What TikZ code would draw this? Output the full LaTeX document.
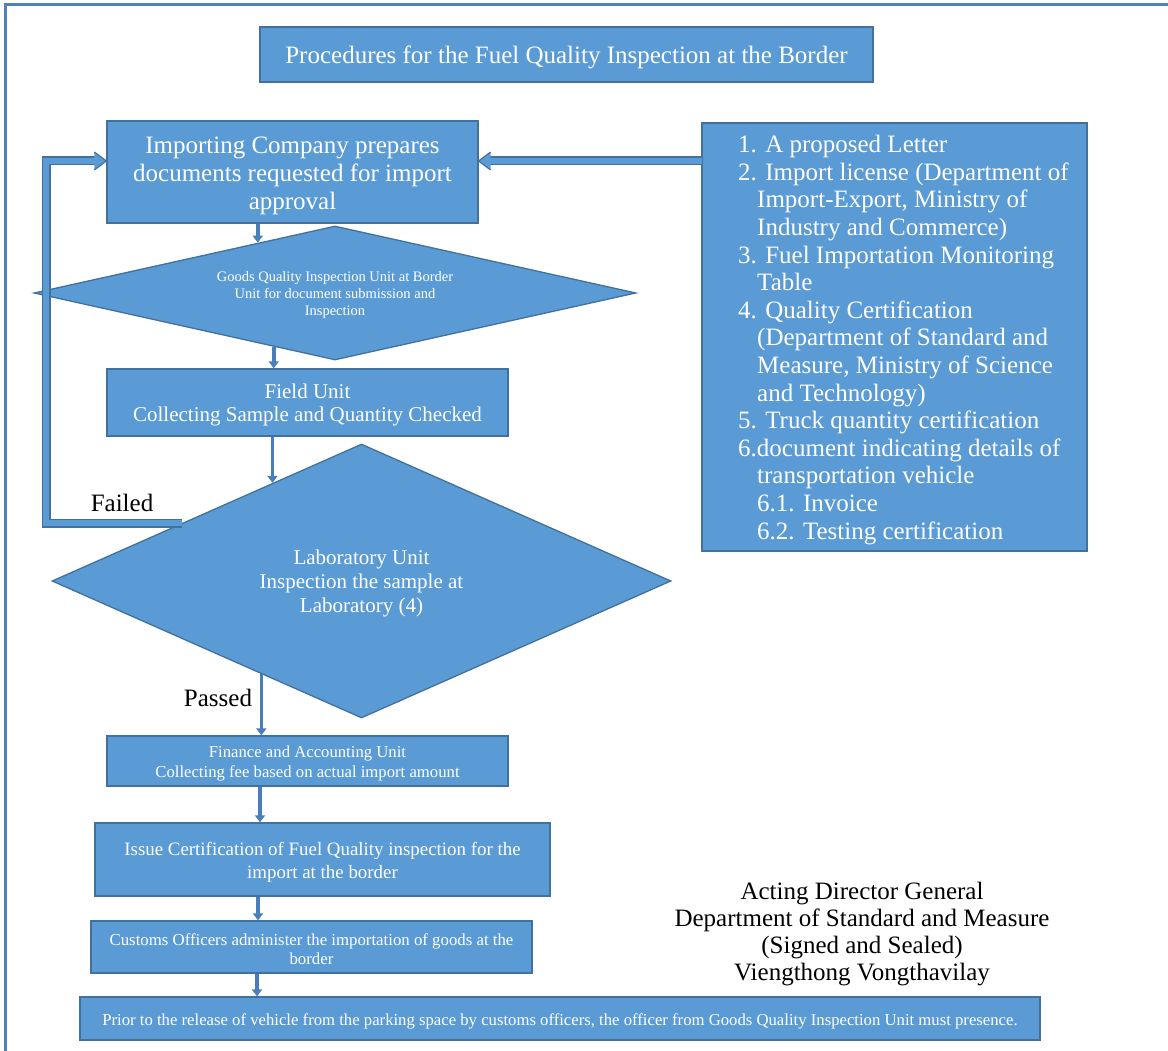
\documentclass[tikz,border=0pt]{standalone}
\usepackage{fontspec}
\setmainfont{Liberation Serif}
\usetikzlibrary{shapes.geometric,arrows.meta,calc}
\definecolor{boxfill}{HTML}{5B9BD5}
\definecolor{boxline}{HTML}{41719C}
\definecolor{framecol}{HTML}{4F81BD}
\definecolor{arrowcol}{HTML}{4A7EBB}
\newcommand{\fs}[2]{\fontsize{#1}{#2}\selectfont}
\newcommand{\dn}[1]{\rule{0pt}{\dimexpr 0.68em+#1pt\relax}}
\begin{document}
\begin{tikzpicture}[x=1pt,y=-1pt,
  box/.style={draw=boxline, fill=boxfill, line width=1.3pt, text=white, align=center, inner sep=0pt},
  dia/.style={box, shape=diamond},
  arr/.style={draw=arrowcol, line width=3.5pt, -{Triangle[width=10pt,length=7pt]}},
  lbl/.style={text=black, inner sep=0pt, align=center},
  shaftout/.style={draw=boxline, line width=9pt, line join=miter},
  shaftin/.style={draw=boxfill, line width=6.4pt, line join=miter}]
\useasboundingbox (0,0) rectangle (1168,1051);
\draw[framecol, line width=3pt] (5,1051) -- (5,5) -- (1168,5);

% boxes
\node[box, minimum width=613, minimum height=55, font=\fs{25}{30}] (title) at (566.5,54.5)
  {\dn{6}Procedures for the Fuel Quality Inspection at the Border};
\node[box, minimum width=371, minimum height=102, font=\fs{25}{28}] (imp) at (292.5,172)
  {\dn{8}Importing Company prepares\\documents requested for import\\approval};
\node[box, minimum width=385, minimum height=428] (list) at (894.5,337) {};
\node[lbl, text=white, align=left, anchor=west, font=\fs{25}{27.6}] (listtext) at (738,340)
  {1. A proposed Letter\\
   2. Import license (Department of\\
   \hspace*{19pt}Import-Export, Ministry of\\
   \hspace*{19pt}Industry and Commerce)\\
   3. Fuel Importation Monitoring\\
   \hspace*{19pt}Table\\
   4. Quality Certification\\
   \hspace*{19pt}(Department of Standard and\\
   \hspace*{19pt}Measure, Ministry of Science\\
   \hspace*{19pt}and Technology)\\
   5. Truck quantity certification\\
   6.document indicating details of\\
   \hspace*{19pt}transportation vehicle\\
   \hspace*{19pt}6.1. Invoice\\
   \hspace*{19pt}6.2. Testing certification};
\node[dia, aspect=4.5, minimum width=602, minimum height=134, font=\fs{14.5}{17}] (d1) at (335,293)
  {\dn{4}Goods Quality Inspection Unit at Border\\Unit for document submission and\\Inspection};
\node[box, minimum width=401, minimum height=67, font=\fs{21}{23}] (field) at (307.5,402.5)
  {\dn{5}Field Unit\\Collecting Sample and Quantity Checked};
\node[dia, aspect=2.26, minimum width=619, minimum height=274, font=\fs{21}{24}] (lab) at (361.5,581)
  {\dn{6}Laboratory Unit\\Inspection the sample at\\Laboratory (4)};
\node[box, minimum width=401, minimum height=50, font=\fs{16.7}{20}] (fin) at (307.5,761)
  {\dn{6}Finance and Accounting Unit\\Collecting fee based on actual import amount};
\node[box, minimum width=455, minimum height=73, font=\fs{18.9}{23}] (iss) at (322.5,859.5)
  {\dn{7}Issue Certification of Fuel Quality inspection for the\\import at the border};
\node[box, minimum width=441, minimum height=52, font=\fs{16.8}{19}] (cus) at (311.5,947)
  {\dn{4}Customs Officers administer the importation of goods at the\\border};
\node[box, minimum width=960, minimum height=43, font=\fs{16.7}{20}] (pri) at (560,1018.5)
  {\dn{7}Prior to the release of vehicle from the parking space by customs officers, the officer from Goods Quality Inspection Unit must presence.};

\node[lbl, font=\fs{25}{28}] (failed) at (122,503) {Failed};
\node[lbl, font=\fs{25}{28}] (passed) at (218,698) {Passed};
\node[lbl, font=\fs{25}{27}] (sign) at (862,932)
  {\dn{4}Acting Director General\\Department of Standard and Measure\\(Signed and Sealed)\\Viengthong Vongthavilay};

% small arrows
\coordinate (c1) at ($(d1.west)!0.744!(d1.north)$);
\coordinate (c2) at ($(d1.west)!0.797!(d1.south)$);
\coordinate (c3) at ($(lab.west)!0.713!(lab.north)$);
\coordinate (c4) at ($(lab.west)!0.677!(lab.south)$);
\coordinate (c5) at (260,0);
\coordinate (c6) at (258,0);
\coordinate (c7) at (257,0);
\draw[arr] (imp.south -| c1) -- (c1);
\draw[arr] (c2) -- (field.north -| c2);
\draw[arr] (field.south -| c3) -- (c3);
\draw[arr] (c4) -- (fin.north -| c4);
\draw[arr] (fin.south -| c5) -- (iss.north -| c5);
\draw[arr] (iss.south -| c6) -- (cus.north -| c6);
\draw[arr] (cus.south -| c7) -- (pri.north -| c7);

% block arrow: list -> importing company
\coordinate (ay) at (0,161);
\coordinate (rt) at (imp.east |- ay);
\draw[shaftout] (list.west |- ay) -- ($(rt)+(10,0)$);
\draw[shaftin] ($(list.west |- ay)+(1,0)$) -- ($(rt)+(11,0)$);
\fill[boxfill] (rt) -- ++(12,-9) -- ++(0,18) -- cycle;
\draw[boxline, line width=1.2pt] ($(rt)+(12,-9)$) -- (rt) -- ++(12,9);

% block arrow: failed loop
\coordinate (fs) at ($(lab.north)!0.58!(lab.west)$);
\coordinate (lx) at (46,0);
\coordinate (lt) at (imp.west |- ay);
\draw[shaftout] (fs) -- (fs -| lx) -- (lx |- ay) -- ($(lt)+(-10,0)$);
\draw[shaftin] (fs) -- (fs -| lx) -- (lx |- ay) -- ($(lt)+(-11,0)$);
\fill[boxfill] (lt) -- ++(-12,-9) -- ++(0,18) -- cycle;
\draw[boxline, line width=1.2pt] ($(lt)+(-12,-9)$) -- (lt) -- ++(-12,9);
\end{tikzpicture}
\end{document}
